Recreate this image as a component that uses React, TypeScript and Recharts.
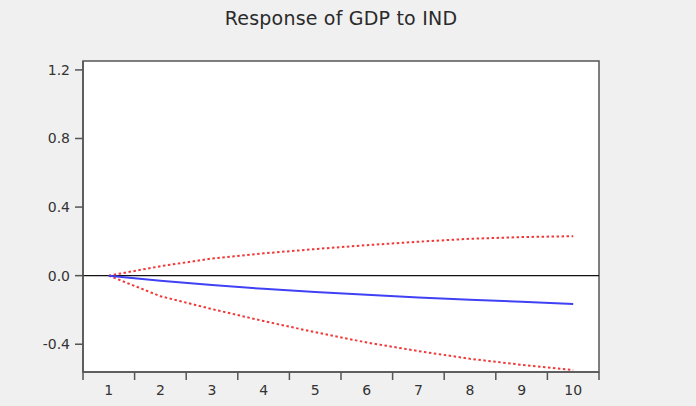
import React from "react";
import {
  LineChart,
  Line,
  XAxis,
  YAxis,
  ReferenceLine,
  ReferenceArea,
  CartesianGrid,
} from "recharts";

// impulse response periods and values
const periods = [1, 2, 3, 4, 5, 6, 7, 8, 9, 10];
const response = [0, -0.03, -0.055, -0.077, -0.096, -0.112, -0.127, -0.14, -0.152, -0.165];
const upperBand = [0, 0.055, 0.1, 0.13, 0.155, 0.178, 0.198, 0.215, 0.225, 0.23];
const lowerBand = [0, -0.12, -0.195, -0.265, -0.33, -0.39, -0.44, -0.485, -0.52, -0.55];
const yTicks = [-0.4, 0.0, 0.4, 0.8, 1.2];

const Y_MIN = -0.562;
const Y_MAX = 1.252;
const X_MIN = 0.5;
const X_MAX = 10.5;

// labels on whole periods, tick marks on the half steps between them
const xTicks = periods.flatMap((p) => [p - 0.5, p]).concat(X_MAX);

const data = periods.map((p, i) => ({
  period: p,
  response: response[i],
  upper: upperBand[i],
  lower: lowerBand[i],
}));

const FONT = "'DejaVu Sans', Verdana, sans-serif";

const XTick = (props: any) => {
  const { x, y, payload } = props;
  const v = payload.value;
  if (Number.isInteger(v)) {
    return (
      <text x={x} y={y + 23} textAnchor="middle" fill="#333" fontSize={14} fontFamily={FONT}>
        {v}
      </text>
    );
  }
  return <line x1={x} x2={x} y1={y} y2={y + 8} stroke="#555" strokeWidth={1.5} />;
};

const YTick = (props: any) => {
  const { x, y, payload } = props;
  return (
    <text x={x} y={y + 5} textAnchor="end" fill="#333" fontSize={14} fontFamily={FONT}>
      {payload.value.toFixed(1)}
    </text>
  );
};

export default function App() {
  return (
    <div
      style={{
        position: "absolute",
        top: 0,
        left: 0,
        width: 696,
        height: 406,
        background: "#f0f0f0",
        fontFamily: FONT,
      }}
    >
      <div
        style={{
          position: "absolute",
          top: 7,
          left: 83,
          width: 516,
          textAlign: "center",
          fontSize: 19,
          letterSpacing: 0.2,
          color: "#2a2a2a",
          lineHeight: "22px",
        }}
      >
        Response of GDP to IND
      </div>
      <LineChart
        width={696}
        height={406}
        data={data}
        margin={{ top: 61, right: 97, bottom: 0, left: 0 }}
      >
        <CartesianGrid horizontal={false} vertical={false} fill="#fff" />
        <XAxis
          dataKey="period"
          type="number"
          domain={[X_MIN, X_MAX]}
          ticks={xTicks}
          interval={0}
          height={34}
          tickSize={0}
          tickMargin={0}
          tickLine={false}
          tick={<XTick />}
          axisLine={{ stroke: "#555", strokeWidth: 1.5 }}
          allowDataOverflow
        />
        <YAxis
          type="number"
          domain={[Y_MIN, Y_MAX]}
          ticks={yTicks}
          interval={0}
          width={83}
          tickSize={8}
          tickMargin={5}
          tick={<YTick />}
          tickLine={{ stroke: "#555", strokeWidth: 1.5 }}
          axisLine={{ stroke: "#555", strokeWidth: 1.5 }}
          allowDataOverflow
        />
        <ReferenceArea
          x1={X_MIN}
          x2={X_MAX}
          y1={Y_MIN}
          y2={Y_MAX}
          fill="none"
          stroke="#555"
          strokeWidth={1.5}
        />
        <ReferenceLine y={0} stroke="#111" strokeWidth={1.2} />
        <Line
          type="linear"
          dataKey="upper"
          stroke="#f03a3a"
          strokeWidth={2}
          strokeDasharray="2.5 2.5"
          dot={false}
          isAnimationActive={false}
        />
        <Line
          type="linear"
          dataKey="lower"
          stroke="#f03a3a"
          strokeWidth={2}
          strokeDasharray="2.5 2.5"
          dot={false}
          isAnimationActive={false}
        />
        <Line
          type="linear"
          dataKey="response"
          stroke="#4040f5"
          strokeWidth={2}
          dot={false}
          isAnimationActive={false}
        />
      </LineChart>
    </div>
  );
}
